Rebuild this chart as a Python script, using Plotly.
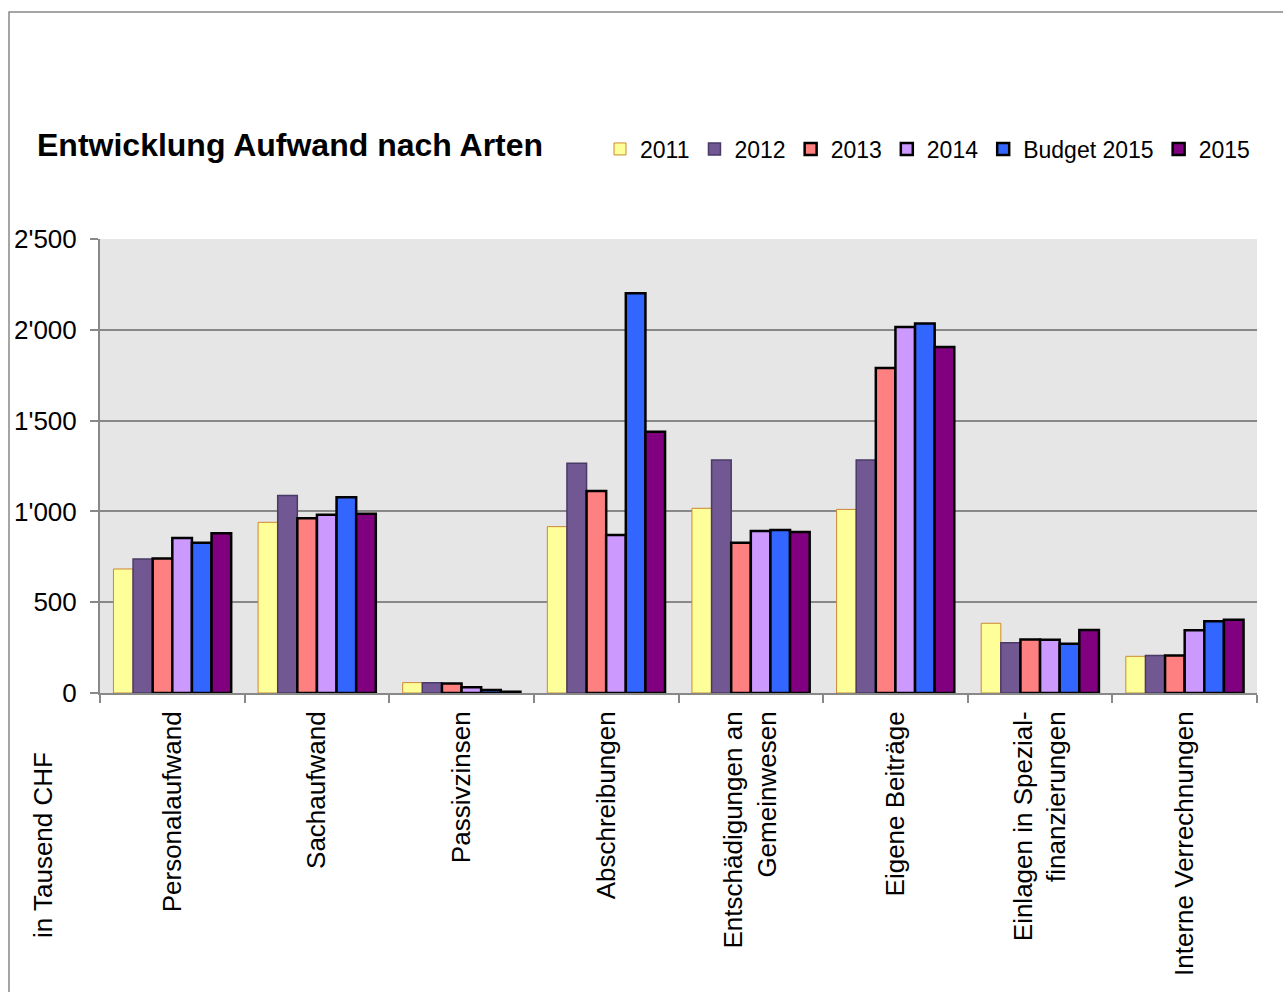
import plotly.graph_objects as go

categories = ["Personalaufwand", "Sachaufwand", "Passivzinsen", "Abschreibungen",
              "Entschädigungen an<br>Gemeinwesen", "Eigene Beiträge",
              "Einlagen in Spezial-<br>finanzierungen", "Interne Verrechnungen"]

series_names = ["2011", "2012", "2013", "2014", "Budget 2015", "2015"]

v2011 = [683, 940, 57, 916, 1017, 1011, 384, 202]
v2012 = [738, 1087, 56, 1265, 1283, 1283, 277, 206]
v2013 = [741, 962, 53, 1112, 828, 1790, 294, 207]
v2014 = [853, 982, 31, 870, 892, 2015, 293, 345]
vbud15 = [828, 1078, 17, 2201, 898, 2035, 271, 395]
v2015 = [879, 987, 7, 1439, 887, 1905, 347, 404]

values = [v2011, v2012, v2013, v2014, vbud15, v2015]
fills = ["#FFFF99", "#715893", "#FF8080", "#CC99FF", "#3366FF", "#800080"]
edges = ["#CC8833", "#4A3A66", "#000000", "#000000", "#000000", "#000000"]
edge_w = [1, 1.5, 2.5, 2.5, 2.5, 2.5]

FONT = "Liberation Sans, Arial, sans-serif"
W, H = 1283, 992
L, R, T, B = 100, 1257, 239, 693

fig = go.Figure()
for name, vals, fc, ec, ew in zip(series_names, values, fills, edges, edge_w):
    fig.add_trace(go.Bar(name=name, x=categories, y=vals,
                         marker=dict(color=fc, line=dict(color=ec, width=ew))))

def px(x):
    return (x - L) / (R - L)

def py(y):
    return (B - y) / (B - T)

fig.update_layout(
    width=W, height=H,
    margin=dict(l=L, r=W - R, t=T, b=H - B, autoexpand=False),
    paper_bgcolor="white", plot_bgcolor="#E6E6E6",
    barmode="group", bargap=0.186, bargroupgap=0,
    separators=".'",
    font=dict(family=FONT, color="black"),
    title=dict(text="<b>Entwicklung Aufwand nach Arten</b>", xref="container", yref="container",
               x=37 / W, xanchor="left", y=1 - 145 / H, yanchor="middle",
               font=dict(size=32, family=FONT, color="black")),
    legend=dict(orientation="h", x=px(600), xanchor="left", y=py(149), yanchor="middle",
                font=dict(size=23, family=FONT), itemwidth=30, traceorder="normal",
                bgcolor="rgba(0,0,0,0)"),
    showlegend=True,
)

fig.update_xaxes(type="category", tickangle=-90, tickfont=dict(size=26, family=FONT),
                 ticks="outside", tickson="boundaries", ticklen=8, tickcolor="#888888",
                 tickwidth=1.5, showline=True, linecolor="#888888", linewidth=2,
                 showgrid=False, ticklabelstandoff=6)
fig.update_yaxes(range=[0, 2500], dtick=500, tickformat=",d", tickfont=dict(size=26, family=FONT),
                 ticks="outside", ticklen=8, tickcolor="#888888", tickwidth=1.5,
                 showline=True, linecolor="#888888", linewidth=2,
                 showgrid=True, gridcolor="#888888", gridwidth=2, zeroline=False,
                 ticklabelstandoff=8)

fig.add_annotation(text="in Tausend CHF", textangle=-90, xref="paper", yref="paper",
                   x=px(43), y=py(845), xanchor="center", yanchor="middle", showarrow=False,
                   font=dict(size=26, family=FONT, color="black"))

fig.add_shape(type="rect", xref="paper", yref="paper", x0=px(9), x1=px(1300), y0=py(1010), y1=py(12),
              line=dict(color="#888888", width=1.5), fillcolor="rgba(0,0,0,0)", layer="below")

fig.write_html("out.html")
